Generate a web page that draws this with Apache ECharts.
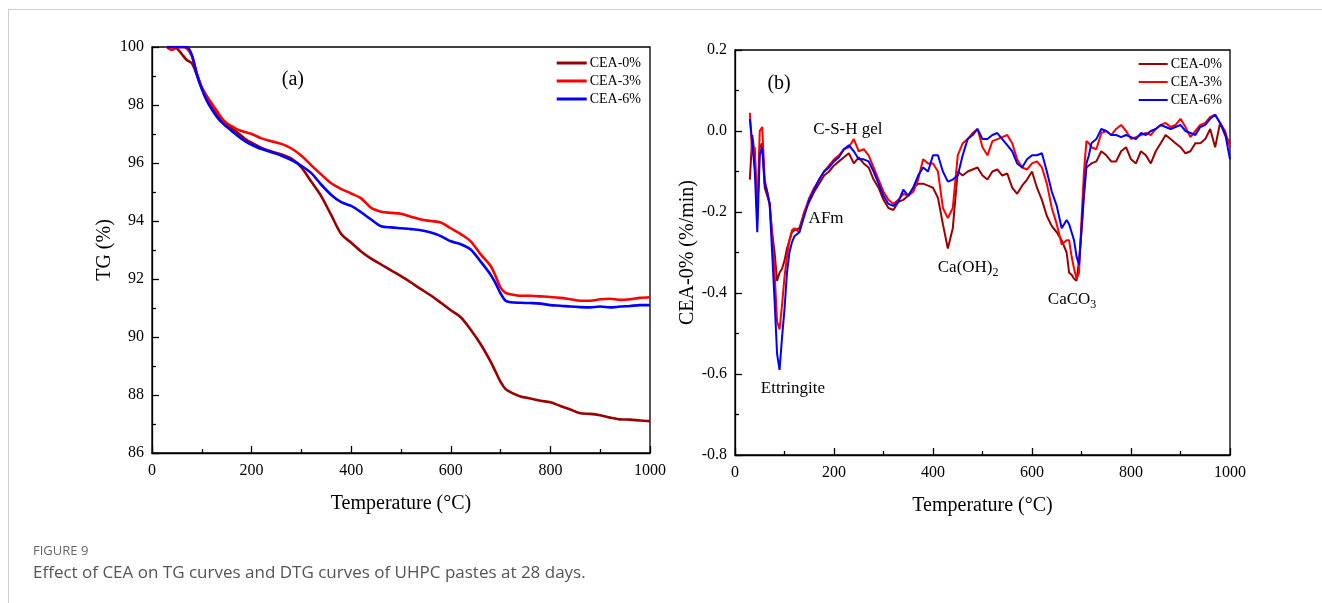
<!DOCTYPE html>
<html><head><meta charset="utf-8">
<script src="https://cdn.jsdelivr.net/npm/echarts@6/dist/echarts.min.js"></script>
<style>
html,body{margin:0;padding:0;background:#fff;overflow:hidden;}
#c{position:absolute;left:0;top:0;width:1322px;height:603px;}
#frame{position:absolute;left:8px;top:9px;width:1400px;height:700px;border-top:1px solid #cfcfcf;border-left:1px solid #cfcfcf;pointer-events:none;}
</style>
</head><body><div id="frame"></div><div id="c"></div>
<script>
// ---------- TG data (a) ----------
var tgT = [30,40,50,60,70,80,90,100,110,120,130,140,150,160,170,180,190,200,220,240,260,280,300,320,340,360,380,400,420,440,460,480,500,520,540,560,580,600,620,640,660,680,690,700,710,720,740,760,780,800,820,840,860,880,900,920,940,960,980,1000];
var tg0 = [100,100,99.95,99.75,99.55,99.44,99.05,98.6,98.29,98.0,97.72,97.5,97.35,97.2,97.07,96.93,96.79,96.7,96.52,96.4,96.29,96.15,95.85,95.35,94.85,94.2,93.55,93.25,92.95,92.7,92.5,92.3,92.1,91.88,91.65,91.43,91.18,90.92,90.68,90.25,89.75,89.15,88.8,88.45,88.2,88.1,87.95,87.88,87.8,87.75,87.62,87.5,87.37,87.35,87.3,87.22,87.16,87.15,87.12,87.1];
var tg3 = [100,99.9,99.98,100,99.95,99.7,99.1,98.6,98.3,98.05,97.8,97.55,97.37,97.27,97.17,97.1,97.05,97.0,96.85,96.75,96.66,96.5,96.25,95.92,95.6,95.3,95.1,94.95,94.78,94.45,94.32,94.28,94.25,94.15,94.05,94.0,93.95,93.75,93.55,93.3,92.85,92.45,92.1,91.7,91.52,91.47,91.42,91.42,91.4,91.38,91.35,91.3,91.25,91.25,91.3,91.32,91.28,91.3,91.35,91.37];
var tg6 = [100,100,100,100,100,99.72,99.05,98.55,98.15,97.85,97.6,97.4,97.25,97.1,96.97,96.83,96.72,96.63,96.48,96.37,96.25,96.1,95.9,95.65,95.25,94.9,94.65,94.52,94.3,94.05,93.82,93.78,93.75,93.72,93.68,93.6,93.48,93.3,93.2,93.02,92.6,92.15,91.85,91.5,91.25,91.2,91.18,91.17,91.15,91.1,91.08,91.05,91.03,91.02,91.05,91.02,91.05,91.07,91.1,91.1];

// ---------- DTG data (b) ----------
var dtgT = [30,35,40,45,50,55,60,65,70,75,80,85,90,95,100,105,110,115,120,
130,140,150,160,170,180,190,200,210,220,230,240,250,260,270,280,290,300,310,320,330,340,350,360,370,380,390,400,410,420,430,440,450,460,470,480,490,500,510,520,530,540,550,560,570,580,590,600,610,620,630,640,650,660,670,
675,680,685,690,695,700,705,710,715,
720,730,740,750,760,770,780,790,800,810,820,830,840,850,860,870,880,890,900,910,920,930,940,950,960,970,980,990,1000];
var dtg0 = [-0.12,-0.01,-0.06,-0.20,-0.04,-0.03,-0.14,-0.16,-0.18,-0.25,-0.30,-0.37,-0.35,-0.34,-0.32,-0.29,-0.27,-0.25,-0.245,
-0.24,-0.20,-0.175,-0.15,-0.13,-0.11,-0.10,-0.085,-0.075,-0.065,-0.055,-0.08,-0.065,-0.08,-0.09,-0.12,-0.14,-0.17,-0.19,-0.195,-0.175,-0.17,-0.16,-0.14,-0.13,-0.13,-0.135,-0.14,-0.165,-0.23,-0.29,-0.24,-0.10,-0.11,-0.10,-0.095,-0.09,-0.11,-0.12,-0.10,-0.095,-0.11,-0.105,-0.14,-0.155,-0.135,-0.12,-0.10,-0.14,-0.17,-0.21,-0.235,-0.25,-0.27,-0.30,
-0.35,-0.355,-0.365,-0.37,-0.32,-0.25,-0.16,-0.09,-0.085,
-0.08,-0.075,-0.05,-0.06,-0.075,-0.075,-0.05,-0.04,-0.07,-0.08,-0.05,-0.06,-0.08,-0.05,-0.03,-0.01,-0.02,-0.03,-0.04,-0.055,-0.05,-0.03,-0.03,-0.02,0.005,-0.04,0.02,-0.01,-0.03];
var dtg3 = [0.045,-0.06,-0.04,-0.22,0.0,0.01,-0.12,-0.15,-0.18,-0.26,-0.35,-0.47,-0.49,-0.43,-0.36,-0.31,-0.27,-0.245,-0.24,
-0.25,-0.20,-0.165,-0.14,-0.12,-0.10,-0.085,-0.07,-0.06,-0.045,-0.04,-0.02,-0.05,-0.045,-0.06,-0.09,-0.12,-0.15,-0.17,-0.18,-0.17,-0.155,-0.16,-0.15,-0.12,-0.07,-0.08,-0.08,-0.10,-0.19,-0.215,-0.19,-0.06,-0.03,-0.02,-0.005,0.005,-0.04,-0.06,-0.025,-0.02,-0.015,-0.01,-0.03,-0.07,-0.09,-0.095,-0.08,-0.075,-0.09,-0.13,-0.19,-0.23,-0.28,-0.27,
-0.27,-0.31,-0.34,-0.365,-0.35,-0.22,-0.10,-0.025,-0.03,
-0.04,-0.045,-0.005,0.0,-0.01,0.005,0.015,0.0,-0.02,-0.015,-0.01,-0.005,-0.01,0.005,0.015,0.02,0.01,0.015,0.03,0.01,-0.015,0.0,0.015,0.02,0.035,0.04,0.02,0.0,-0.04];
var dtg6 = [0.03,-0.03,-0.10,-0.25,-0.06,-0.04,-0.13,-0.15,-0.18,-0.30,-0.42,-0.55,-0.59,-0.51,-0.44,-0.35,-0.30,-0.275,-0.26,
-0.25,-0.21,-0.17,-0.145,-0.12,-0.10,-0.09,-0.075,-0.065,-0.045,-0.035,-0.05,-0.07,-0.07,-0.075,-0.10,-0.13,-0.16,-0.18,-0.185,-0.175,-0.145,-0.16,-0.14,-0.11,-0.09,-0.10,-0.06,-0.06,-0.10,-0.125,-0.12,-0.11,-0.06,-0.02,-0.01,0.005,-0.02,-0.02,-0.01,-0.005,-0.02,-0.035,-0.05,-0.08,-0.09,-0.07,-0.06,-0.06,-0.055,-0.10,-0.15,-0.185,-0.24,-0.22,
-0.23,-0.25,-0.27,-0.31,-0.33,-0.24,-0.15,-0.08,-0.06,
-0.03,-0.02,0.005,0.0,-0.01,-0.01,-0.015,-0.01,-0.015,-0.02,-0.005,-0.01,0.0,0.005,0.015,0.01,0.005,0.01,0.015,0.0,-0.005,-0.01,0.01,0.015,0.03,0.04,0.02,-0.005,-0.07];

var names = ['CEA-0%','CEA-3%','CEA-6%'];
var colors = ['#9b0000','#ff0000','#0000ff'];

function pairs(xs, ys){ return xs.map(function(x,i){ return [x, ys[i]]; }); }

var SERIF = '"Liberation Serif","Times New Roman",serif';
var chart = echarts.init(document.getElementById('c'), null, {renderer:'canvas'});

function xAxisCfg(gi){
  return {
    type:'value', gridIndex:gi, min:0, max:1000, interval:200,
    name:'Temperature (\u00B0C)', nameLocation:'middle', nameGap:41,
    nameTextStyle:{fontFamily:SERIF, fontSize:20, color:'#000'},
    axisLine:{show:true, onZero:false, lineStyle:{color:'#000', width:1.3}},
    axisTick:{show:true, inside:true, length:7, lineStyle:{color:'#000', width:1.3}},
    minorTick:{show:true, splitNumber:2, length:4, lineStyle:{color:'#000', width:1.3}},
    axisLabel:{fontFamily:SERIF, fontSize:16, color:'#000', margin:10, formatter:function(v){ return String(v); }},
    splitLine:{show:false}, minorSplitLine:{show:false}
  };
}

var option = {
  animation:false,
  backgroundColor:'transparent',
  grid:[
    {left:152, top:47, width:498, height:406, show:true, borderColor:'#000', borderWidth:1.3, backgroundColor:'transparent'},
    {left:735, top:50, width:495, height:405, show:true, borderColor:'#000', borderWidth:1.3, backgroundColor:'transparent'}
  ],
  xAxis:[ xAxisCfg(0), xAxisCfg(1) ],
  yAxis:[
    {type:'value', gridIndex:0, min:86, max:100, interval:2,
     name:'TG (%)', nameLocation:'middle', nameGap:37, nameRotate:90,
     nameTextStyle:{fontFamily:SERIF, fontSize:20, color:'#000'},
     axisLine:{show:true, onZero:false, lineStyle:{color:'#000', width:1.3}},
     axisTick:{show:true, inside:true, length:7, lineStyle:{color:'#000', width:1.3}},
     minorTick:{show:true, splitNumber:2, length:4, lineStyle:{color:'#000', width:1.3}},
     axisLabel:{fontFamily:SERIF, fontSize:16, color:'#000', margin:8},
     splitLine:{show:false}},
    {type:'value', gridIndex:1, min:-0.8, max:0.2, interval:0.2,
     name:'CEA-0% (%/min)', nameLocation:'middle', nameGap:35, nameRotate:90,
     nameTextStyle:{fontFamily:SERIF, fontSize:20, color:'#000'},
     axisLine:{show:true, onZero:false, lineStyle:{color:'#000', width:1.3}},
     axisTick:{show:true, inside:true, length:7, lineStyle:{color:'#000', width:1.3}},
     minorTick:{show:true, splitNumber:2, length:4, lineStyle:{color:'#000', width:1.3}},
     axisLabel:{fontFamily:SERIF, fontSize:16, color:'#000', margin:8,
       formatter:function(v){ if (Math.abs(v) < 1e-9) return '0.0'; return v.toFixed(1); }},
     splitLine:{show:false}}
  ],
  legend:[
    {data:names, orient:'vertical', right:676, top:51, itemWidth:30, itemHeight:3, itemGap:4, icon:'rect',
     textStyle:{fontFamily:SERIF, fontSize:14, color:'#000', padding:[0,0,0,-2]}},
    {data:names, orient:'vertical', right:95, top:52, itemWidth:29, itemHeight:2, itemGap:4, icon:'rect',
     textStyle:{fontFamily:SERIF, fontSize:14, color:'#000', padding:[0,0,0,-2]}}
  ],
  series:[
    {name:names[0], type:'line', xAxisIndex:0, yAxisIndex:0, data:pairs(tgT,tg0), showSymbol:false, smooth:0.3, lineStyle:{width:2.6, color:colors[0]}, itemStyle:{color:colors[0]}, z:3},
    {name:names[1], type:'line', xAxisIndex:0, yAxisIndex:0, data:pairs(tgT,tg3), showSymbol:false, smooth:0.3, lineStyle:{width:2.6, color:colors[1]}, itemStyle:{color:colors[1]}, z:4},
    {name:names[2], type:'line', xAxisIndex:0, yAxisIndex:0, data:pairs(tgT,tg6), showSymbol:false, smooth:0.3, lineStyle:{width:2.6, color:colors[2]}, itemStyle:{color:colors[2]}, z:5},
    {name:names[0], type:'line', xAxisIndex:1, yAxisIndex:1, data:pairs(dtgT,dtg0), showSymbol:false, lineStyle:{width:2, color:colors[0]}, itemStyle:{color:colors[0]}, z:3},
    {name:names[1], type:'line', xAxisIndex:1, yAxisIndex:1, data:pairs(dtgT,dtg3), showSymbol:false, lineStyle:{width:2, color:colors[1]}, itemStyle:{color:colors[1]}, z:4},
    {name:names[2], type:'line', xAxisIndex:1, yAxisIndex:1, data:pairs(dtgT,dtg6), showSymbol:false, lineStyle:{width:2, color:colors[2]}, itemStyle:{color:colors[2]}, z:5}
  ]
};
chart.setOption(option);

// annotation labels placed at data coordinates
var notes = [
  {g:0, x:283, y:98.86, text:'(a)', size:20},
  {g:1, x:89, y:0.117, text:'(b)', size:20},
  {g:1, x:228, y:0.0025, text:'C-S-H gel', size:17},
  {g:1, x:184, y:-0.217, text:'AFm', size:17},
  {g:1, x:117, y:-0.635, text:'Ettringite', size:17},
  {g:1, x:471, y:-0.338, text:'Ca(OH){s|2}', size:17},
  {g:1, x:681, y:-0.417, text:'CaCO{s|3}', size:17}
];
var gfx = notes.map(function(n){
  var p = chart.convertToPixel({gridIndex:n.g}, [n.x, n.y]);
  return {type:'text', x:p[0], y:p[1], z:100, style:{text:n.text, fontFamily:SERIF, fontSize:n.size, fill:'#000', align:'center', verticalAlign:'middle',
    rich:{s:{fontFamily:SERIF, fontSize:12, fill:'#000', padding:[9,0,0,0]}}}};
});
gfx.push({type:'text', left:33, top:545, style:{text:'FIGURE 9', fontFamily:'"Open Sans","Noto Sans",sans-serif', fontSize:13, fill:'#666'}});
gfx.push({type:'text', left:33, top:565, style:{text:'Effect of CEA on TG curves and DTG curves of UHPC pastes at 28 days.', fontFamily:'"Open Sans","Noto Sans",sans-serif', fontSize:17, fill:'#555'}});
chart.setOption({graphic:gfx});
</script>
</body></html>
